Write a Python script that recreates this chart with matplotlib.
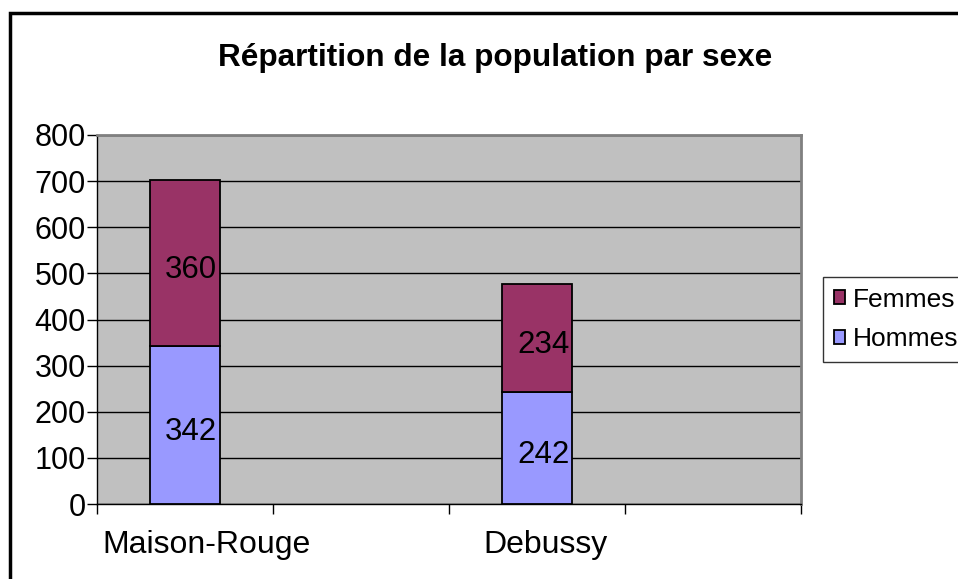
import matplotlib
matplotlib.use("Agg")
import matplotlib.pyplot as plt
from matplotlib.patches import Rectangle

categories = ["Maison-Rouge", "Debussy"]
hommes = [342, 242]
femmes = [360, 234]
yticks = [0, 100, 200, 300, 400, 500, 600, 700, 800]

plt.rcParams['font.family'] = ['Liberation Sans', 'DejaVu Sans']

W, H = 958, 579
fig = plt.figure(figsize=(W/100, H/100), dpi=100)
ax = fig.add_axes([97/W, 1-504/H, (801-97)/W, (504-135)/H])
ax.set_facecolor('#C0C0C0')

FS = 22
pos = [2*i + 0.5 for i in range(len(categories))]
label_shift = [0.12, 0.05]
ax.bar(pos, hommes, width=0.4, color='#9999FF', edgecolor='black', linewidth=1.3, label='Hommes', zorder=3)
ax.bar(pos, femmes, width=0.4, bottom=hommes, color='#993366', edgecolor='black', linewidth=1.3, label='Femmes', zorder=3)
for x, h, f in zip(pos, hommes, femmes):
    ax.annotate(str(h), (x, h/2), xytext=(4.5, -5), textcoords='offset points',
                ha='center', va='center', fontsize=22.5, zorder=4)
    ax.annotate(str(f), (x, h + f/2), xytext=(4.5, -5), textcoords='offset points',
                ha='center', va='center', fontsize=22.5, zorder=4)

ax.set_xlim(0, 2*len(categories))
ax.set_ylim(0, 800)
ax.set_yticks(yticks)
ax.set_yticklabels([str(v) for v in yticks], fontsize=FS)
ax.yaxis.grid(True, color='black', linewidth=1)
ax.set_axisbelow(True)
ax.set_xticks(range(0, 2*len(categories)+1))
ax.set_xticklabels([])
ax.set_xticks([p + s for p, s in zip(pos, label_shift)], minor=True)
ax.set_xticklabels(categories, minor=True, fontsize=23)
ax.tick_params(axis='x', which='minor', length=0, pad=19)
ax.tick_params(axis='x', which='major', length=7, width=1, direction='out')
ax.tick_params(axis='y', length=7, width=1, direction='out', pad=1)
for s in ['top', 'right']:
    ax.spines[s].set_color('#808080')
    ax.spines[s].set_linewidth(2)
for s in ['left', 'bottom']:
    ax.spines[s].set_color('black')
    ax.spines[s].set_linewidth(1)

handles, labels = ax.get_legend_handles_labels()
leg = fig.legend(handles[::-1], labels[::-1], loc='upper left',
                 bbox_to_anchor=(823/W, 1-277/H), fontsize=19,
                 frameon=True, fancybox=False, edgecolor='black',
                 handlelength=0.45, handleheight=0.45, handletextpad=0.3,
                 borderpad=0.4, labelspacing=0.6, borderaxespad=0)
leg.get_frame().set_linewidth(1)

fig.text(495/W, 1-58/H, "Répartition de la population par sexe",
         ha='center', va='center', fontsize=22.7, fontweight='bold')

fig.add_artist(Rectangle((10/W, -0.2), 1.5, (1-13/H)+0.2, transform=fig.transFigure,
                         fill=False, edgecolor='black', linewidth=2.5, clip_on=False))

fig.savefig('out.png', dpi=100)
